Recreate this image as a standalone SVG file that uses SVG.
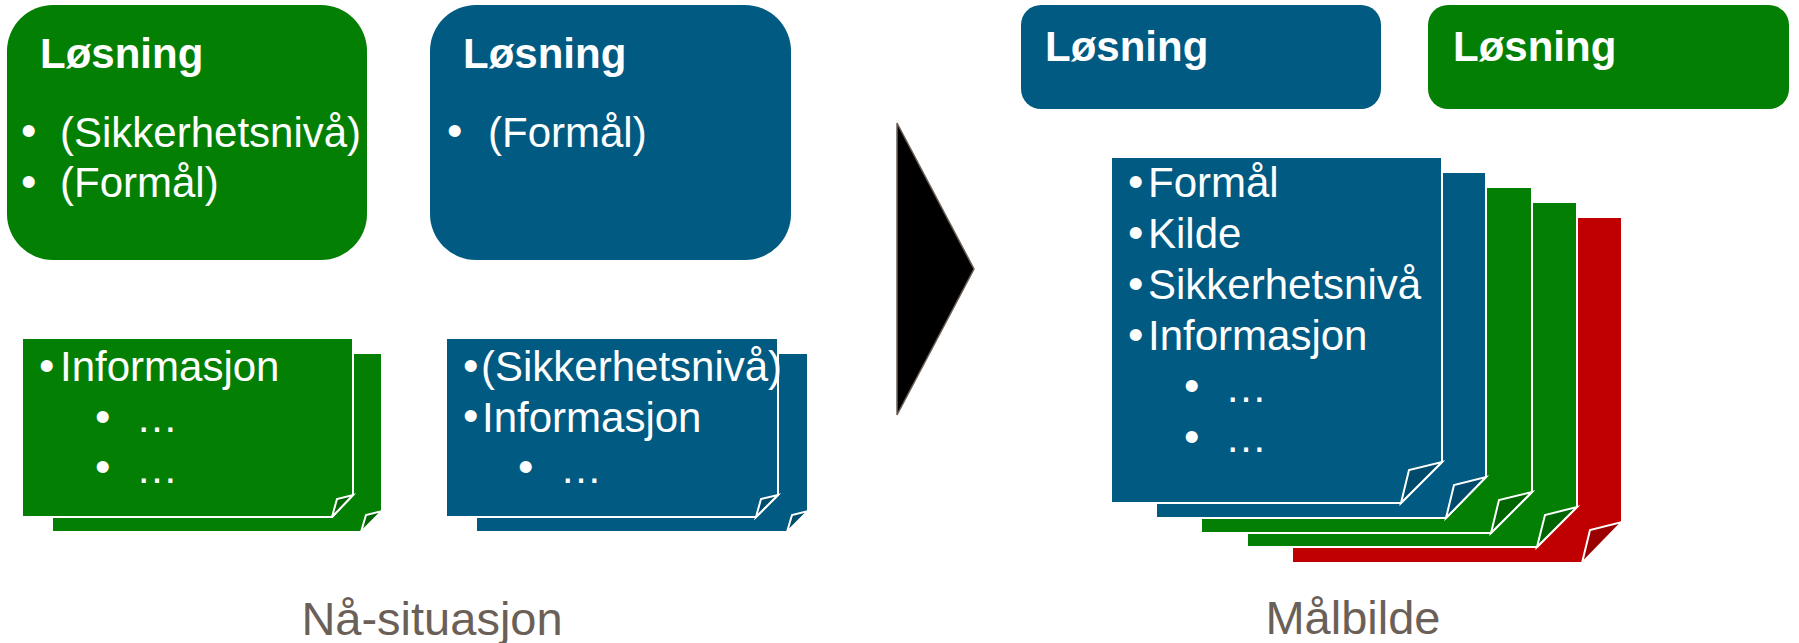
<svg xmlns="http://www.w3.org/2000/svg" width="1799" height="643" viewBox="0 0 1799 643">
<style>
.t{font-family:"Liberation Sans",Arial,sans-serif;fill:#fff;font-size:42px}
.bl{font-size:44px}
.b{font-weight:bold}
.lbl{font-family:"Liberation Sans",Arial,sans-serif;fill:#6B6057;font-size:47px;text-anchor:middle}
.blue{fill:#005A82}
.green{fill:#037F03}
.red{fill:#C00000}
.pg{stroke:#fff;stroke-width:2;stroke-linejoin:miter}
.fb{fill:#004B6C;stroke:#fff;stroke-width:2}
.fg{fill:#006400;stroke:#fff;stroke-width:2}
.fr{fill:#9A0000;stroke:#fff;stroke-width:2}
</style>

<!-- Top-left green solution box -->
<g id="losning-green-top">
  <rect class="green" x="7" y="5" width="360" height="255" rx="46" ry="46"/>
  <text class="t b" x="40" y="68">Løsning</text>
  <text class="t"><tspan class="bl" x="21" y="146">•</tspan><tspan x="60" y="147">(Sikkerhetsnivå)</tspan><tspan class="bl" x="21" y="197">•</tspan><tspan x="60" y="197">(Formål)</tspan></text>
</g>

<!-- Top-left blue solution box -->
<g id="losning-blue-top">
  <rect class="blue" x="430" y="5" width="361" height="255" rx="46" ry="46"/>
  <text class="t b" x="463" y="68">Løsning</text>
  <text class="t"><tspan class="bl" x="447" y="146">•</tspan><tspan x="488" y="147">(Formål)</tspan></text>
</g>

<!-- Green note stack (current) -->
<g id="info-green">
  <path class="green pg" d="M52,353 H382 V511 L361,532 H52 Z"/>
  <path class="fg" d="M361,532 L382,511 L366,515 Z"/>
  <path class="green pg" d="M22,338 H353 V495 L332,517 H22 Z"/>
  <path class="fg" d="M332,517 L353,495 L337,499 Z"/>
  <text class="t"><tspan class="bl" x="39" y="381">•</tspan><tspan x="60" y="381">Informasjon</tspan><tspan class="bl" x="95" y="432">•</tspan><tspan x="136" y="432">…</tspan><tspan class="bl" x="95" y="482">•</tspan><tspan x="136" y="483">…</tspan></text>
</g>

<!-- Blue note stack (current) -->
<g id="info-blue">
  <path class="blue pg" d="M476,353 H808 V511 L787,532 H476 Z"/>
  <path class="fb" d="M787,532 L808,511 L792,515 Z"/>
  <path class="blue pg" d="M446,338 H778 V495 L756,517 H446 Z"/>
  <path class="fb" d="M756,517 L778,495 L761,499 Z"/>
  <text class="t"><tspan class="bl" x="463" y="381">•</tspan><tspan x="481" y="381">(Sikkerhetsnivå)</tspan><tspan class="bl" x="463" y="431">•</tspan><tspan x="482" y="432">Informasjon</tspan><tspan class="bl" x="518" y="482">•</tspan><tspan x="560" y="483">…</tspan></text>
</g>

<!-- Transition arrow -->
<g id="connectors">
  <polygon points="897,123 974,269 897,415" fill="#000" stroke="#6B6057" stroke-width="1.5"/>
</g>

<!-- Top-right boxes -->
<g id="losning-blue-target">
  <rect class="blue" x="1021" y="5" width="360" height="104" rx="20" ry="20"/>
  <text class="t b" x="1045" y="61">Løsning</text>
</g>
<g id="losning-green-target">
  <rect class="green" x="1428" y="5" width="361" height="104" rx="20" ry="20"/>
  <text class="t b" x="1453" y="61">Løsning</text>
</g>

<!-- Target page stack -->
<g id="target-stack">
  <path class="red pg" d="M1292,217 H1622 V522 L1582,563 H1292 Z"/>
  <path class="fr" d="M1582,563 L1622,522 L1590,530 Z"/>
  <path class="green pg" d="M1247,202 H1577 V507 L1537,547 H1247 Z"/>
  <path class="fg" d="M1537,547 L1577,507 L1545,515 Z"/>
  <path class="green pg" d="M1201,187 H1532 V492 L1491,533 H1201 Z"/>
  <path class="fg" d="M1491,533 L1532,492 L1499,500 Z"/>
  <path class="blue pg" d="M1156,172 H1486 V477 L1446,518 H1156 Z"/>
  <path class="fb" d="M1446,518 L1486,477 L1454,485 Z"/>
  <path class="blue pg" d="M1111,157 H1442 V462 L1401,503 H1111 Z"/>
  <path class="fb" d="M1401,503 L1442,462 L1409,470 Z"/>
  <text class="t"><tspan class="bl" x="1128" y="197">•</tspan><tspan x="1148" y="197">Formål</tspan><tspan class="bl" x="1128" y="248">•</tspan><tspan x="1148" y="248">Kilde</tspan><tspan class="bl" x="1128" y="299">•</tspan><tspan x="1148" y="299">Sikkerhetsnivå</tspan><tspan class="bl" x="1128" y="350">•</tspan><tspan x="1148" y="350">Informasjon</tspan><tspan class="bl" x="1184" y="401">•</tspan><tspan x="1225" y="402">…</tspan><tspan class="bl" x="1184" y="452">•</tspan><tspan x="1225" y="452">…</tspan></text>
</g>

<!-- Section labels -->
<g id="labels">
  <text class="lbl" x="432" y="635">Nå-situasjon</text>
  <text class="lbl" x="1353" y="634">Målbilde</text>
</g>
</svg>
